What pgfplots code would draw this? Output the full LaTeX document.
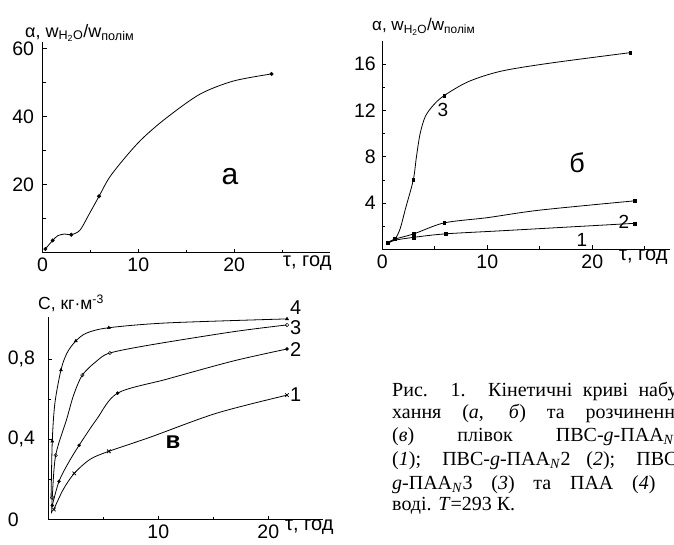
\documentclass[border=0pt]{standalone}
\usepackage{fontspec}
\setmainfont{Liberation Sans}
\newfontfamily\capfont{Liberation Serif}
\usepackage{pgfplots}
\pgfplotsset{compat=1.18}

\pgfplotsset{
  panel/.style={
    scale only axis, anchor=south west, clip=false,
    axis x line=bottom, axis y line=left,
    axis line style={-, line width=1.2pt},
    tick align=inside,
    major tick length=4pt, minor tick length=3pt,
    every tick/.style={black, line width=0.8pt},
    tick label style={font=\fontsize{19.5}{19.5}\selectfont},
    xticklabel style={yshift=-2pt},
    /pgf/number format/assume math mode=true,
    /pgf/number format/use comma,
  },
  curve/.style={black, line width=0.8pt, smooth, tension=0.5},
}

\begin{document}
\begin{tikzpicture}
\useasboundingbox (0pt,0pt) rectangle (674pt,544pt);

% --- панель а
\begin{axis}[panel, at={(42.5pt,291.3pt)}, width=287.5pt, height=210.7pt,
  xmin=0, xmax=30, ymin=0, ymax=62,
  xtick={0,10,20}, minor xtick={5,15,25},
  ytick={20,40,60}, minor ytick={10,30,50},
  yticklabel style={xshift=-5pt}]
\addplot[curve] coordinates {
  (0.3,1.1) (1.06,3.6) (1.6,5.0) (2.3,5.5) (3.0,5.3) (3.9,6.6) (4.8,11)
  (5.9,16.6) (7.0,22.2) (8.8,28.6) (10.5,33.8) (12.9,39.6) (16.4,46.6)
  (19.9,50.5) (23.9,52.6)};
\addplot[only marks, mark=*, mark size=1.8pt] coordinates {
  (0.3,1.1) (1.06,3.6) (3.0,5.3) (5.9,16.6) (23.9,52.6)};
\end{axis}

% --- панель б
\begin{axis}[panel, at={(382.3pt,294.5pt)}, width=287.7pt, height=208.4pt,
  xmin=0, xmax=27.4, ymin=0, ymax=18,
  xtick={0,10,20}, minor xtick={5,15,25},
  ytick={4,8,12,16}, minor ytick={2,6,10,14},
  yticklabel style={xshift=-3pt}]
\addplot[curve] coordinates {
  (0.5,0.6) (1.2,0.9) (1.7,1.8) (2.2,3.5) (2.95,6.0) (3.25,8.0) (3.6,10.0)
  (4.1,11.5) (4.9,12.5) (5.9,13.3) (8.2,14.5) (11.3,15.4) (16,16.1) (23.6,17.0)};
\addplot[curve] coordinates {
  (0.5,0.6) (1.2,0.9) (3,1.35) (5.9,2.3) (10,2.75) (15,3.4) (24,4.2)};
\addplot[curve] coordinates {
  (0.5,0.5) (1.2,0.8) (3,1.05) (6,1.35) (12,1.65) (24,2.26)};
\addplot[only marks, mark=square*, mark size=1.4pt] coordinates {
  (0.5,0.6) (1.2,0.9) (2.95,6.0) (5.9,13.3) (23.6,17.0)
  (3,1.35) (5.9,2.3) (24,4.2)
  (3,1.05) (6,1.35) (24,2.26)};
\end{axis}

% --- панель в
\begin{axis}[panel, at={(48.3pt,24.5pt)}, width=275pt, height=202.6pt,
  xmin=0, xmax=25, ymin=0, ymax=1.01,
  xtick={10,20}, minor xtick={5,15},
  ytick={0,0.4,0.8}, minor ytick={0.2,0.6},
  yticklabel style={anchor=west, xshift=-44pt}]
\addplot[curve] coordinates {
  (0.25,0.1) (0.36,0.39) (0.6,0.58) (1.15,0.745) (1.7,0.83) (2.5,0.89)
  (3.5,0.93) (5.5,0.956) (10.8,0.98) (21.7,1.0)};
\addplot[curve] coordinates {
  (0.3,0.03) (0.36,0.11) (0.67,0.32) (1.67,0.5) (2.3,0.62) (3.1,0.72)
  (4.4,0.79) (5.6,0.83) (9.25,0.87) (16.8,0.936) (21.7,0.97)};
\addplot[curve] coordinates {
  (0.36,0.07) (0.97,0.19) (1.8,0.28) (2.8,0.37) (4.4,0.5) (6.3,0.63)
  (10.8,0.70) (16.8,0.79) (21.7,0.85)};
\addplot[curve] coordinates {
  (0.5,0.05) (1.36,0.15) (2.36,0.23) (3.8,0.3) (5.5,0.34) (9.25,0.41)
  (15.3,0.53) (21.7,0.62)};
\addplot[only marks, mark=triangle*, mark size=1.8pt] coordinates {
  (0.36,0.39) (1.15,0.745) (2.5,0.89) (5.5,0.956) (21.7,1.0)};
\addplot[only marks, mark=o, mark size=1.8pt] coordinates {
  (0.36,0.11) (0.67,0.32) (3.1,0.72) (5.6,0.83) (21.7,0.97)};
\addplot[only marks, mark=*, mark size=1.5pt] coordinates {
  (0.36,0.07) (0.97,0.19) (2.8,0.37) (6.3,0.63) (21.7,0.85)};
\addplot[only marks, mark=x, mark size=2.5pt, line width=0.8pt] coordinates {
  (0.5,0.05) (2.36,0.23) (5.5,0.34) (21.7,0.62)};
\end{axis}

% подписи осей и кривых
\begin{scope}[every node/.style={inner sep=0pt}]
\node[anchor=west, font=\fontsize{18}{18}\selectfont] at (25pt,511pt)
  {α, w\textsubscript{H\textsubscript{2}O}/w\textsubscript{полім}};
\node[anchor=west, font=\fontsize{20}{20}\selectfont] at (283pt,281pt) {τ, год};
\node[font=\fontsize{30}{30}\selectfont] at (230pt,367pt) {а};

\node[anchor=west, font=\fontsize{17}{17}\selectfont] at (372pt,517pt)
  {α, w\textsubscript{H\textsubscript{2}O}/w\textsubscript{полім}};
\node[anchor=west, font=\fontsize{20}{20}\selectfont] at (619pt,287pt) {τ, год};
\node[font=\fontsize{27}{27}\selectfont] at (577pt,381pt) {б};
\node[font=\fontsize{19}{19}\selectfont] at (443pt,434pt) {3};
\node[font=\fontsize{19}{19}\selectfont] at (624pt,322pt) {2};
\node[font=\fontsize{19}{19}\selectfont] at (582pt,304pt) {1};

\node[anchor=west, font=\fontsize{17.5}{17.5}\selectfont] at (38pt,241pt)
  {C, кг·м\textsuperscript{-3}};
\node[anchor=west, font=\fontsize{20}{20}\selectfont] at (285pt,17pt) {τ, год};
\node[font=\bfseries\fontsize{24}{24}\selectfont] at (173pt,102pt) {в};
\node[anchor=west, font=\fontsize{20}{20}\selectfont] at (290pt,236pt) {4};
\node[anchor=west, font=\fontsize{20}{20}\selectfont] at (290pt,216pt) {3};
\node[anchor=west, font=\fontsize{20}{20}\selectfont] at (290pt,194pt) {2};
\node[anchor=west, font=\fontsize{20}{20}\selectfont] at (290pt,149pt) {1};
\end{scope}

% підпис рисунка (обрізаний краєм, як в оригіналі)
\begin{scope}[every node/.style={inner sep=0pt, anchor=base west,
    font=\capfont\fontsize{20}{20}\selectfont}]
\node at (392pt,147.3pt) {\makebox[292pt][s]{Рис. 1. Кінетичні криві набу-}};
\node at (392pt,126pt) {\makebox[292pt][s]{хання (\textit{а}, \textit{б}) та розчинення}};
\node at (392pt,102.3pt) {\makebox[292pt][s]{(\textit{в}) плівок ПВС-\textit{g}-ПАА\textsubscript{\textit{N}}1}};
\node at (392pt,79pt) {\makebox[292pt][s]{(\textit{1}); ПВС-\textit{g}-ПАА\textsubscript{\textit{N}}2 (\textit{2}); ПВС-}};
\node at (392pt,55pt) {\makebox[292pt][s]{\textit{g}-ПАА\textsubscript{\textit{N}}3 (\textit{3}) та ПАА (\textit{4}) у}};
\node at (392pt,34pt) {воді. \textit{T}=293 К.};
\end{scope}
\end{tikzpicture}
\end{document}
